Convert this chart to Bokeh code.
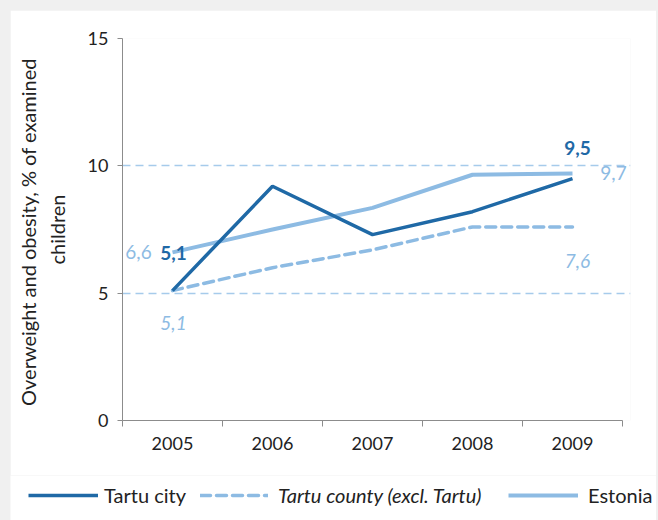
from bokeh.plotting import figure
from bokeh.models import (Range1d, FixedTicker, Legend, LegendItem, ColumnDataSource)
from bokeh.core.properties import value
from bokeh.embed import file_html
from bokeh.resources import INLINE

years = [2005, 2006, 2007, 2008, 2009]
tartu_city = [5.1, 9.2, 7.3, 8.2, 9.5]
tartu_county = [5.1, 6.0, 6.7, 7.6, 7.6]
estonia = [6.6, 7.5, 8.35, 9.65, 9.7]
y_ticks = [0, 5, 10, 15]
grid_ticks = [5, 10, 15]
series_names = ["Tartu city", "Tartu county (excl. Tartu)", "Estonia"]

FONT = "Lato"
DARK = "#1F69A6"
LIGHT = "#8DBBE3"
GRID = "#A6CBEB"
AXIS = "#8C8C8C"
TXT = "#222222"

p = figure(width=646, height=465, output_backend="svg", toolbar_location=None,
           x_range=Range1d(2004.5, 2009.58), y_range=Range1d(0, 15),
           min_border_left=112, min_border_right=26, min_border_top=28,
           min_border_bottom=55, background_fill_color="white",
           border_fill_color="white", outline_line_color=None)

# grid
p.xgrid.visible = False
p.ygrid.ticker = FixedTicker(ticks=grid_ticks)
p.ygrid.grid_line_color = GRID
p.ygrid.grid_line_width = 1.5
p.ygrid.grid_line_dash = "8 5"

# y axis
p.yaxis.ticker = FixedTicker(ticks=y_ticks)
p.yaxis.axis_line_color = AXIS
p.yaxis.major_tick_line_color = AXIS
p.yaxis.major_tick_in = 0
p.yaxis.major_tick_out = 5
p.yaxis.minor_tick_line_color = None
p.yaxis.major_label_standoff = 9
p.yaxis.major_label_text_font = FONT
p.yaxis.major_label_text_font_size = "18px"
p.yaxis.major_label_text_color = TXT
p.yaxis.axis_label = "Overweight and obesity,  % of examined\nchildren"
p.yaxis.axis_label_text_font = FONT
p.yaxis.axis_label_text_font_size = "20px"
p.yaxis.axis_label_text_font_style = "normal"
p.yaxis.axis_label_text_color = TXT
p.yaxis.axis_label_standoff = 16

# x axis
p.xaxis.ticker = FixedTicker(ticks=years, minor_ticks=[y - 0.5 for y in years] + [years[-1] + 0.5])
p.xaxis.bounds = (years[0] - 0.5, years[-1] + 0.5)
p.xaxis.axis_line_color = AXIS
p.xaxis.major_tick_line_color = None
p.xaxis.major_tick_in = 0
p.xaxis.major_tick_out = 6
p.xaxis.minor_tick_line_color = AXIS
p.xaxis.minor_tick_in = 0
p.xaxis.minor_tick_out = 6
p.xaxis.major_label_standoff = 10
p.xaxis.major_label_text_font = FONT
p.xaxis.major_label_text_font_size = "18px"
p.xaxis.major_label_text_color = TXT

# line styles
st_city = dict(line_color=DARK, line_width=3.5)
st_county = dict(line_color=LIGHT, line_width=3.5, line_dash="10 6", line_cap="round")
st_est = dict(line_color=LIGHT, line_width=4)

p.line(years, tartu_county, **st_county)
p.line(years, estonia, **st_est)
p.line(years, tartu_city, **st_city)

def fmt(v):
    return f"{v:.1f}".replace(".", ",")

# value labels
def lab(series, idx, color, style, xo, yo):
    src = ColumnDataSource(dict(x=[years[idx]], y=[series[idx]], t=[fmt(series[idx])]))
    p.text(x="x", y="y", text="t", source=src, x_offset=xo, y_offset=yo,
           text_font=value(FONT), text_font_size="19px", text_font_style=style,
           text_color=color, text_align="center", text_baseline="middle")

lab(tartu_city, 0, DARK, "bold", 1, -38)
lab(tartu_city, 4, DARK, "bold", 5, -31)
lab(estonia, 0, LIGHT, "normal", -34, 0)
lab(estonia, 4, LIGHT, "normal", 41, 0)
lab(tartu_county, 0, LIGHT, "italic", 1, 32)
lab(tartu_county, 4, LIGHT, "italic", 5, 34)

# legend strip below the chart (separate root so its frame spans the full width)
lg_fig = figure(width=646, height=45, output_backend="svg", toolbar_location=None,
                x_axis_type=None, y_axis_type=None, x_range=Range1d(0, 1),
                y_range=Range1d(0, 1), min_border=0, outline_line_color=None,
                background_fill_color="white", border_fill_color="white")
lr_city = lg_fig.line(years, tartu_city, **st_city)
lr_county = lg_fig.line(years, tartu_county, **st_county)
lr_est = lg_fig.line(years, estonia, **st_est)

def add_legend(label, r, x, gw, standoff, style):
    lg = Legend(items=[LegendItem(label=label, renderers=[r])], location=(x, 13),
                orientation="horizontal", glyph_width=gw, glyph_height=20,
                label_standoff=standoff, padding=0, margin=0, spacing=0,
                border_line_color=None, background_fill_alpha=0,
                label_text_font=FONT, label_text_font_size="20px",
                label_text_font_style=style, label_text_color=TXT,
                label_height=20)
    lg_fig.add_layout(lg, "center")

add_legend(series_names[0], lr_city, 18, 70, 6, "normal")
add_legend(series_names[1], lr_county, 190, 68, 10, "italic")
add_legend(series_names[2], lr_est, 498, 70, 10, "normal")

html = file_html([p, lg_fig], INLINE)
html = html.replace(
    "</head>",
    "<style>html,body{background:#f0f0f0 !important;} body{padding:10px 0 0 10px !important;}</style></head>",
    1)
open("out.html", "w").write(html)
